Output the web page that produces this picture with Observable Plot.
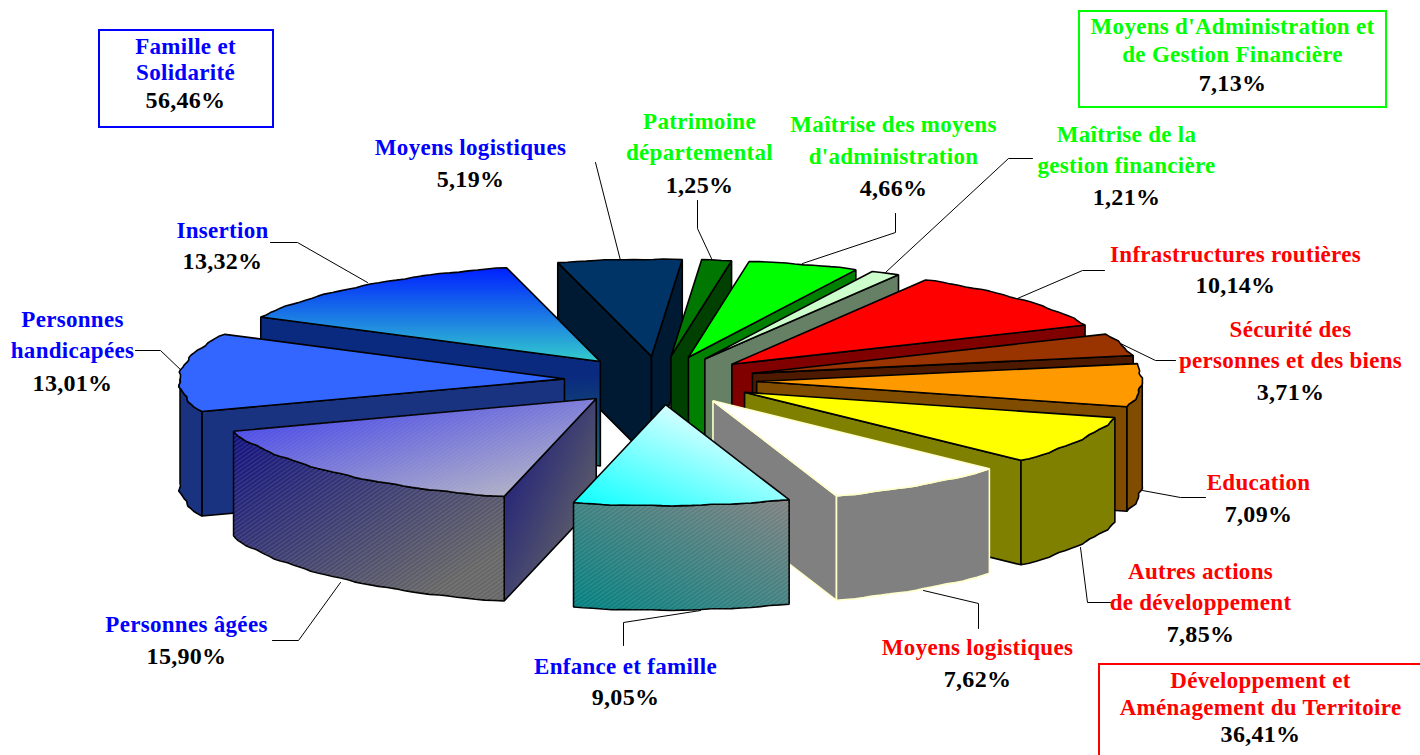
<!DOCTYPE html>
<html><head><meta charset="utf-8">
<style>html,body{margin:0;padding:0;background:#fff}svg{display:block}</style>
<script src="https://cdn.jsdelivr.net/npm/d3@7"></script>
<script src="https://cdn.jsdelivr.net/npm/@observablehq/plot@0.6"></script>
</head><body><div id="chart"></div>
<script>
// Data, clockwise, first slice straddling the top of the pie
const categories = ["Moyens logistiques (FS)","Patrimoine départemental","Maîtrise des moyens d'administration","Maîtrise de la gestion financière","Infrastructures routières","Sécurité des personnes et des biens","Education","Autres actions de développement","Moyens logistiques (DAT)","Enfance et famille","Personnes âgées","Personnes handicapées","Insertion"];
const values = [5.19,1.25,4.66,1.21,10.14,3.71,7.09,7.85,7.62,9.05,15.90,13.01,13.32];
const topFills = ["#003366","#007700","#00ff00","#ccffcc","#ff0000","#993300","#ff9900","#ffff00","#ffffff","url(#gEnfTop)","url(#gAgeTop)","#3366ff","url(#gInsTop)"];
const wallFills = ["#001a33","#004000","#008000","#668066","#800000","#4d1a00","#804d00","#808000","#808080","url(#gEnfWall)","url(#gAgeWall)","#1a3380","url(#gInsWall)"];
const edgeColors = ["#000","#000","#000","#000","#000","#000","#000","#000","#ffffcc","#000","#000","#000","#000"];

// Pie layout
const startDeg = -14.7, cx = 660, cy = 380, rx = 385, ry = 97, explode = 0.25, depth = 104.5;

// Text blocks: lines, colour of the name, anchor
const labels = [
 {l:["Famille et","Solidarité"],v:"56,46%",c:"#0000ff",x:185,y:[47,73,101]},
 {l:["Moyens d'Administration et","de Gestion Financière"],v:"7,13%",c:"#00ff00",x:1232,y:[27,55,84]},
 {l:["Développement et","Aménagement du Territoire"],v:"36,41%",c:"#ff0000",x:1260,y:[681,708,735]},
 {l:["Moyens logistiques"],v:"5,19%",c:"#0000ff",x:470,y:[148,180]},
 {l:["Patrimoine","départemental"],v:"1,25%",c:"#00ff00",x:699,y:[122,153,186]},
 {l:["Maîtrise des moyens","d'administration"],v:"4,66%",c:"#00ff00",x:893,y:[125,157,189]},
 {l:["Maîtrise de la","gestion financière"],v:"1,21%",c:"#00ff00",x:1126,y:[135,166,198]},
 {l:["Infrastructures routières"],v:"10,14%",c:"#ff0000",x:1235,y:[255,286]},
 {l:["Sécurité des","personnes et des biens"],v:"3,71%",c:"#ff0000",x:1290,y:[330,361,393]},
 {l:["Education"],v:"7,09%",c:"#ff0000",x:1258,y:[483,515]},
 {l:["Autres actions","de développement"],v:"7,85%",c:"#ff0000",x:1200,y:[572,603,635]},
 {l:["Moyens logistiques"],v:"7,62%",c:"#ff0000",x:977,y:[648,680]},
 {l:["Enfance et famille"],v:"9,05%",c:"#0000ff",x:625,y:[667,698]},
 {l:["Personnes âgées"],v:"15,90%",c:"#0000ff",x:186,y:[625,657]},
 {l:["Personnes","handicapées"],v:"13,01%",c:"#0000ff",x:72,y:[320,351,384]},
 {l:["Insertion"],v:"13,32%",c:"#0000ff",x:222,y:[231,262]}
];
const boxes = [
 {x1:99,y1:30,x2:273,y2:127,c:"#0000ff"},
 {x1:1079,y1:11,x2:1386,y2:107,c:"#00ff00"},
 {x1:1099,y1:664,x2:1421,y2:756,c:"#ff0000"}
];
const leaders = [
 [[595,162],[620,260]],
 [[697,200],[697,228],[711,258]],
 [[895,213],[895,232],[802,263]],
 [[1032,158],[1008,158],[885,272]],
 [[1104,270],[1082,270],[1017,298]],
 [[1175,360],[1155,360],[1120,343]],
 [[1205,497],[1180,497],[1142,490]],
 [[1110,602],[1087,602],[1080,547]],
 [[978,628],[978,603],[923,590]],
 [[623,645],[623,622],[700,610]],
 [[272,640],[298,640],[340,582]],
 [[135,350],[160,350],[182,371]],
 [[270,242],[297,242],[367,282]]
];

// Geometry derived from values
const rad = d => d * Math.PI / 180;
const total = d3.sum(values);
let acc = startDeg;
const slices = values.map((v, i) => {
  const a0 = acc, a1 = acc + v / total * 360; acc = a1;
  const mid = rad((a0 + a1) / 2);
  return {i, a0, a1, mid, ax: cx + explode * rx * Math.sin(mid), ay: cy - explode * ry * Math.cos(mid)};
});
const wob = d => 1 + 0.003 * Math.sin(rad(d) * 37) + 0.0015 * Math.sin(rad(d) * 83);
const rim = (s, d, dz = 0) => {
  const c = Math.cos(rad(d));
  const yr = ry * (1 + 0.04 * Math.max(0, -c));
  return [s.ax + rx * wob(d) * Math.sin(rad(d)) + 4 * c, s.ay - yr * wob(d) * c + dz];
};
const arcDegs = (a, b) => { const n = Math.max(2, Math.ceil((b - a) / 1.5)); return d3.range(n + 1).map(k => a + (b - a) * k / n); };
const poly = (pts, fill, stroke, sw = 1.6) => Plot.line(pts, {x: d => d[0], y: d => d[1], fill, stroke, strokeWidth: sw, curve: "linear-closed", strokeLinejoin: "miter"});

const pieMarks = [];
slices.slice().sort((a, b) => Math.cos(b.mid) - Math.cos(a.mid)).forEach(s => {
  const wall = wallFills[s.i], top = topFills[s.i], e = edgeColors[s.i];
  const radial = d => { const p = rim(s, d), q = rim(s, d, depth); return [[s.ax, s.ay], p, q, [s.ax, s.ay + depth]]; };
  if (Math.sin(rad(s.a0)) < 0) pieMarks.push(poly(radial(s.a0), wall, e));
  if (Math.sin(rad(s.a1)) > 0) pieMarks.push(poly(radial(s.a1), wall, e));
  // Outer wall: front-facing portion only
  const lo = Math.max(s.a0, 90), hi = Math.min(s.a1, 270);
  if (hi > lo) {
    const ds = arcDegs(lo, hi);
    const wallPts = [...ds.map(d => rim(s, d)), ...ds.slice().reverse().map(d => rim(s, d, depth))];
    pieMarks.push(poly(wallPts, wall, e));
    if (s.i === 9 || s.i === 10) pieMarks.push(poly(wallPts, "url(#hatch)", "none", 0));
  }
  const topPts = [[s.ax, s.ay], ...arcDegs(s.a0, s.a1).map(d => rim(s, d))];
  pieMarks.push(poly(topPts, top, e));
  if (s.i === 9 || s.i === 10) pieMarks.push(poly(topPts, "url(#hatchSoft)", "none", 0));
});

// Text rows
const nameRows = labels.flatMap(b => b.l.map((t, k) => ({t, x: b.x, y: b.y[k] - 1, c: b.c})));
const valueRows = labels.map(b => ({t: b.v, x: b.x, y: b.y[b.l.length] - 1, c: "#000"}));

// Gradients and hatches
const defsMark = () => {
  const defs = d3.create("svg:defs");
  const grad = (id, x1, y1, x2, y2, stops) => {
    const g = defs.append("svg:linearGradient").attr("id", id).attr("x1", x1).attr("y1", y1).attr("x2", x2).attr("y2", y2);
    stops.forEach(([o, c]) => g.append("svg:stop").attr("offset", o).attr("stop-color", c));
  };
  grad("gInsTop", 0, 0, 0, 1, [[0, "#0020ff"], [1, "#33cccc"]]);
  grad("gInsWall", 0.9, 0.4, 1, 1, [[0, "#0a2a80"], [1, "#1a6666"]]);
  grad("gAgeTop", 0, 0, 1, 1, [[0, "#3333ee"], [1, "#c0c0c0"]]);
  grad("gAgeWall", 0, 0, 1, 1, [[0, "#101080"], [0.85, "#666666"], [1, "#666666"]]);
  grad("gEnfTop", 0, 1, 0.7, 0.2, [[0, "#00ffff"], [1, "#d8ffff"]]);
  grad("gEnfWall", 0, 1, 1, 0, [[0, "#008080"], [1, "#808080"]]);
  const hatch = (id, op, size) => {
    const p = defs.append("svg:pattern").attr("id", id).attr("width", size).attr("height", size)
      .attr("patternUnits", "userSpaceOnUse").attr("patternTransform", "rotate(-35)");
    p.append("svg:line").attr("x1", 0).attr("x2", size).attr("y1", 1).attr("y2", 1).attr("stroke", "#fff").attr("stroke-opacity", op).attr("stroke-width", 0.8);
  };
  hatch("hatch", 0.18, 3.4);
  hatch("hatchSoft", 0.14, 3);
  return defs.node();
};

const textMark = (rows, size) => Plot.text(rows, {x: "x", y: "y", text: "t", fill: "c", fontFamily: "Liberation Serif", fontWeight: "bold", fontSize: size, textAnchor: "middle", lineAnchor: "middle"});

const chart = Plot.plot({
  width: 1420, height: 755, margin: 0,
  x: {domain: [0, 1420], range: [0, 1420], axis: null},
  y: {domain: [0, 755], range: [0, 755], axis: null},
  style: {background: "#fff", letterSpacing: "0.3px"},
  marks: [
    defsMark,
    ...leaders.map(pts => Plot.line(pts, {x: d => d[0], y: d => d[1], stroke: "#000", strokeWidth: 1})),
    ...pieMarks,
    Plot.rect(boxes, {x1: "x1", y1: "y1", x2: "x2", y2: "y2", fill: "#fff", stroke: "c", strokeWidth: 2}),
    textMark(nameRows, 23),
    textMark(valueRows, 24)
  ]
});
document.getElementById("chart").append(chart);
</script></body></html>
